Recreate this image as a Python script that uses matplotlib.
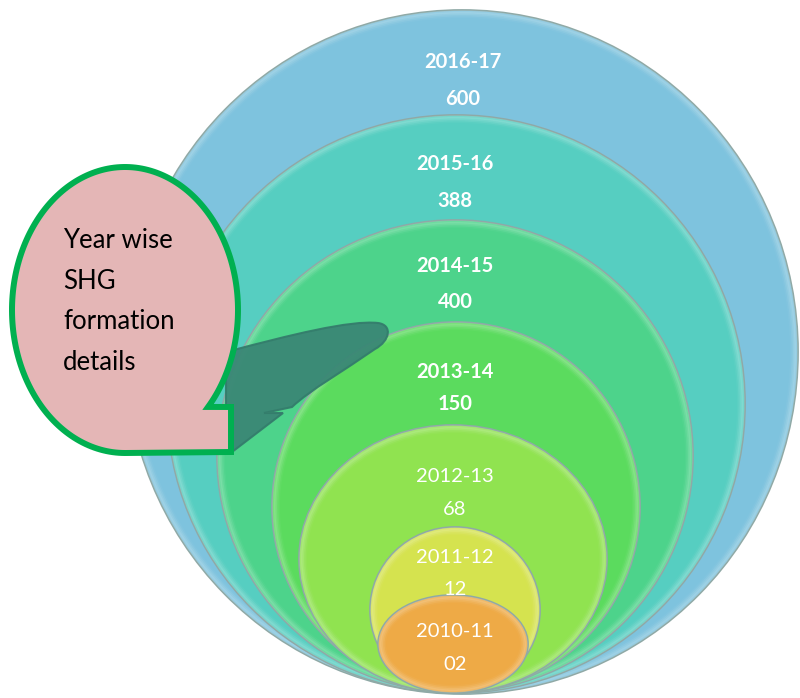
import numpy as np
import matplotlib.pyplot as plt
from matplotlib.patches import Ellipse, Polygon, PathPatch
from matplotlib.path import Path
from matplotlib.colors import to_rgb

# data, outermost ring first
years = ["2016-17", "2015-16", "2014-15", "2013-14", "2012-13", "2011-12", "2010-11"]
counts = ["600", "388", "400", "150", "68", "12", "02"]
bold = [True, True, True, True, False, False, False]
title_lines = ["Year wise", "SHG", "formation", "details"]

# layout (pixels, y down)
ring_cx = [462, 456, 455, 456, 453, 455, 453]
ring_cy = [352, 404, 456, 507, 559, 610, 644]
ring_rx = [336, 289, 238, 184, 154, 85, 75]
ring_ry = [342, 289, 236, 185, 134, 83, 49]
label_x = [463, 455, 455, 455, 455, 455, 455]
year_y = [68, 170, 272, 378, 482, 563, 637]
count_y = [105, 207, 308, 410, 515, 595, 670]
colors = ["#7EC3DE", "#56CEC1", "#4DD38B", "#5BDB5E", "#90E350", "#D5E34F", "#EEAA46"]


def lighten(c, f):
    r, g, b = to_rgb(c)
    return (r + (1 - r) * f, g + (1 - g) * f, b + (1 - b) * f)


fig = plt.figure(figsize=(8, 6.98), dpi=100)
ax = fig.add_axes([0, 0, 1, 1])
ax.set_xlim(0, 800)
ax.set_ylim(698, 0)
ax.axis("off")

for i in range(len(years)):
    cx, cy, rx, ry = ring_cx[i], ring_cy[i], ring_rx[i], ring_ry[i]
    ax.add_patch(Ellipse((cx, cy), 2 * rx, 2 * ry, facecolor=colors[i],
                         edgecolor="#8FA9A6", lw=1.3, zorder=1 + i))
    # soft light rim
    for k, a in zip([4, 7, 10, 13], [0.45, 0.3, 0.18, 0.08]):
        ax.add_patch(Ellipse((cx, cy), 2 * rx - k, 2 * ry - k, facecolor="none",
                             edgecolor=lighten(colors[i], 0.4), lw=2.2, alpha=a,
                             zorder=1 + i))

for i in range(len(years)):
    w = "bold" if bold[i] else "normal"
    ax.text(label_x[i], year_y[i], years[i], color="white", fontsize=14.5,
            fontweight=w, family="Lato", ha="center", va="baseline", zorder=20)
    ax.text(label_x[i], count_y[i], counts[i], color="white", fontsize=14.5,
            fontweight=w, family="Lato", ha="center", va="baseline", zorder=20)

# callout tail
verts = [(226, 352), (290, 335), (350, 320), (378, 323), (393, 325), (390, 341),
         (375, 349), (345, 370), (310, 390), (292, 407), (264, 413), (283, 413),
         (232, 452), (226, 452), (226, 352)]
codes = [Path.MOVETO, Path.CURVE4, Path.CURVE4, Path.CURVE4, Path.CURVE4,
         Path.CURVE4, Path.CURVE4, Path.CURVE4, Path.CURVE4, Path.CURVE4,
         Path.LINETO, Path.LINETO, Path.LINETO, Path.LINETO, Path.CLOSEPOLY]
ax.add_patch(PathPatch(Path(verts, codes), facecolor="#3A8775", edgecolor="#347D6C",
                       lw=1.5, alpha=0.95, zorder=15))

# speech bubble
bcx, bcy, brx, bry = 125, 310, 113, 143
t = np.linspace(np.pi / 2, 2 * np.pi + 0.745, 200)
pts = list(zip(bcx + brx * np.cos(t), bcy + bry * np.sin(t)))
pts += [(231, 407), (231, 452), (125, 453)]
ax.add_patch(Polygon(pts, closed=True, facecolor="#E4B6B6", edgecolor="#00B050",
                     lw=4.3, joinstyle="miter", zorder=16))

for k, line in enumerate(title_lines):
    ax.text(63, 248 + 40.7 * k, line, color="black", fontsize=18.5, family="Lato",
            ha="left", va="baseline", zorder=20)

fig.savefig("out.png", dpi=100)
